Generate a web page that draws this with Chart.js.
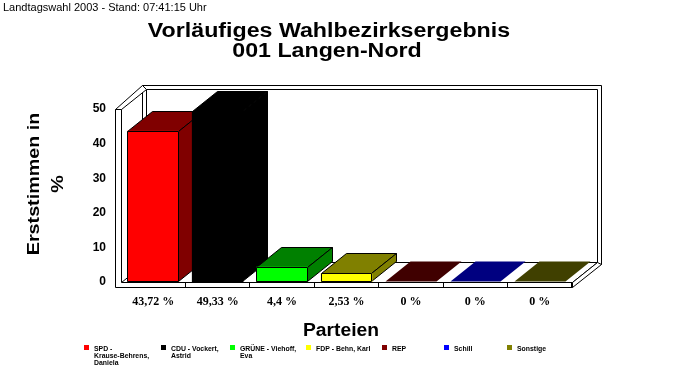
<!DOCTYPE html>
<html><head><meta charset="utf-8">
<script src="https://cdn.jsdelivr.net/npm/chart.js@4/dist/chart.umd.min.js"></script>
<style>html,body{margin:0;padding:0;background:#fff;overflow:hidden}#c{display:block}</style>
</head><body>
<canvas id="c" width="683" height="380"></canvas>
<script>
// ---- data ----
const categories = ["SPD - Krause-Behrens, Daniela", "CDU - Vockert, Astrid", "GRÜNE - Viehoff, Eva", "FDP - Behn, Karl", "REP", "Schill", "Sonstige"];
const values = [43.72, 49.33, 4.4, 2.53, 0, 0, 0];
const valueLabels = ["43,72 %", "49,33 %", "4,4 %", "2,53 %", "0 %", "0 %", "0 %"];
const yMin = 0, yMax = 50, yStep = 10;
const headerText = "Landtagswahl 2003 - Stand: 07:41:15 Uhr";
const titleLines = ["Vorläufiges Wahlbezirksergebnis", "001 Langen-Nord"];
const yTitleLines = ["Erststimmen in", "%"];
const xTitle = "Parteien";

// ---- style ----
const frontColors = ["#ff0000", "#000000", "#00ff00", "#ffff00", "#800000", "#0000ff", "#808000"];
const shadeColors = ["#800000", "#000000", "#008000", "#808000", "#400000", "#000080", "#404000"];
const legendColors = ["#ff0000", "#000000", "#00ff00", "#ffff00", "#800000", "#0000ff", "#808000"];
const legendX = [84, 161, 230, 306, 382, 444, 507];
const DX = 25, DY = -20;

function poly(ctx, pts, fill, stroke) {
  ctx.beginPath();
  ctx.moveTo(pts[0][0], pts[0][1]);
  for (let i = 1; i < pts.length; i++) ctx.lineTo(pts[i][0], pts[i][1]);
  ctx.closePath();
  if (fill) { ctx.fillStyle = fill; ctx.fill(); }
  if (stroke) { ctx.strokeStyle = stroke; ctx.lineWidth = 1; ctx.stroke(); }
}
function sText(ctx, text, x, y, font, sx, align) {
  ctx.save();
  ctx.font = font;
  ctx.textAlign = align || 'left';
  ctx.textBaseline = 'alphabetic';
  ctx.fillStyle = '#000';
  ctx.translate(x, y);
  ctx.scale(sx, 1);
  ctx.fillText(text, 0, 0);
  ctx.restore();
}
function wrap(ctx, text, maxW, sx) {
  const words = text.split(' ');
  const lines = [];
  let cur = '';
  for (const w of words) {
    const t = cur ? cur + ' ' + w : w;
    if (cur && ctx.measureText(t).width * sx > maxW) { lines.push(cur); cur = w; }
    else cur = t;
  }
  if (cur) lines.push(cur);
  return lines;
}
function barBox(el) {
  const p = el.getProps(['x', 'y', 'base', 'width'], true);
  return {
    l: Math.round(p.x - p.width / 2) + 0.5,
    r: Math.round(p.x + p.width / 2) - 0.5,
    top: Math.round(p.y) + 0.5,
    base: Math.round(p.base) - 0.5
  };
}

const threeD = {
  id: 'threeD',
  beforeDraw(chart) {
    const ctx = chart.ctx;
    ctx.save();
    ctx.fillStyle = '#fff';
    ctx.fillRect(0, 0, chart.width, chart.height);
    const a = chart.chartArea, ys = chart.scales.y;
    const L = Math.round(a.left) + 0.5, R = Math.round(a.right) + 0.5;
    const T = Math.round(ys.getPixelForValue(yMax)) + 0.5, B = Math.round(ys.getPixelForValue(yMin)) + 0.5;
    poly(ctx, [[L + DX - 4, T + DY - 4], [R + DX + 4, T + DY - 4], [R + DX + 4, B + DY + 2], [L + DX - 4, B + DY + 2]], '#fff', '#000');
    poly(ctx, [[L + DX, T + DY], [R + DX, T + DY], [R + DX, B + DY], [L + DX, B + DY]], '#fff', '#000');
    poly(ctx, [[L - 6, T], [L, T], [L + DX, T + DY], [L + DX - 4, T + DY - 4]], '#fff', '#000');
    poly(ctx, [[L, B], [R, B], [R + DX, B + DY], [L + DX, B + DY]], '#fff', '#000');
    poly(ctx, [[R, B], [R + DX, B + DY], [R + DX + 4, B + DY + 2], [R, B + 5]], '#fff', '#000');
    poly(ctx, [[L - 6, T], [L - 6, B + 5], [R, B + 5], [R, B], [L, B], [L, T]], '#fff', '#000');
    ctx.restore();
  },
  beforeDatasetsDraw(chart) {
    const ctx = chart.ctx;
    const meta = chart.getDatasetMeta(0);
    ctx.save();
    meta.data.forEach((el, i) => {
      const b = barBox(el);
      if (values[i] > 0) {
        poly(ctx, [[b.l, b.top], [b.r, b.top], [b.r + DX, b.top + DY], [b.l + DX, b.top + DY]], shadeColors[i], '#000');
        poly(ctx, [[b.r, b.top], [b.r + DX, b.top + DY], [b.r + DX, b.base + DY], [b.r, b.base]], shadeColors[i], '#000');
      } else {
        poly(ctx, [[b.l, b.base], [b.r, b.base], [b.r + DX, b.base + DY], [b.l + DX, b.base + DY]], shadeColors[i], null);
      }
    });
    ctx.restore();
  },
  afterDatasetsDraw(chart) {
    const ctx = chart.ctx;
    const meta = chart.getDatasetMeta(0);
    ctx.save();
    meta.data.forEach((el, i) => {
      if (values[i] <= 0) return;
      const b = barBox(el);
      poly(ctx, [[b.l, b.top], [b.r, b.top], [b.r, b.base], [b.l, b.base]], null, '#000');
    });
    ctx.restore();
  },
  afterDraw(chart) {
    const ctx = chart.ctx;
    ctx.save();
    sText(ctx, headerText, 3, 11, '11px "Liberation Sans", Arial, sans-serif', 1, 'left');
    sText(ctx, titleLines[0], 329, 36.5, 'bold 20px "Liberation Sans", Arial, sans-serif', 1.16, 'center');
    sText(ctx, titleLines[1], 327, 57, 'bold 20px "Liberation Sans", Arial, sans-serif', 1.16, 'center');
    sText(ctx, xTitle, 341, 336, 'bold 18px "Liberation Sans", Arial, sans-serif', 1.07, 'center');
    const yx = [38.5, 63];
    yTitleLines.forEach((t, k) => {
      ctx.save();
      ctx.translate(yx[k], 184);
      ctx.rotate(-Math.PI / 2);
      sText(ctx, t, 0, 0, 'bold 17px "Liberation Sans", Arial, sans-serif', 1.16, 'center');
      ctx.restore();
    });
    const lf = 'bold 6.5px "Liberation Sans", Arial, sans-serif';
    categories.forEach((c, i) => {
      ctx.fillStyle = legendColors[i];
      ctx.fillRect(legendX[i], 345, 5, 5);
      ctx.font = lf;
      const lines = wrap(ctx, c, 57, 1.06);
      lines.forEach((ln, k) => sText(ctx, ln, legendX[i] + 10, 350.5 + 7 * k, lf, 1.06, 'left'));
    });
    ctx.restore();
  }
};

new Chart(document.getElementById('c'), {
  type: 'bar',
  data: {
    labels: valueLabels,
    datasets: [{
      data: values,
      backgroundColor: frontColors,
      borderWidth: 0,
      barPercentage: 0.8,
      categoryPercentage: 1
    }]
  },
  options: {
    responsive: false,
    animation: false,
    devicePixelRatio: 1,
    layout: { padding: { top: 109, right: 111, bottom: 68, left: 0 } },
    plugins: { legend: { display: false }, title: { display: false }, tooltip: { enabled: false } },
    scales: {
      x: {
        offset: true,
        grid: {
          display: true, drawOnChartArea: false, drawTicks: true, tickLength: 5, offset: true,
          color: c => (c.index === 0 || c.index >= values.length) ? 'rgba(0,0,0,0)' : '#000'
        },
        border: { display: false },
        ticks: { color: '#000', font: { family: 'Liberation Serif', weight: 'bold', size: 12 }, padding: 8, maxRotation: 0, autoSkip: false },
        afterFit: s => { s.height = 30; }
      },
      y: {
        min: yMin, max: yMax,
        ticks: { stepSize: yStep, color: '#000', font: { family: 'Liberation Sans', weight: 'bold', size: 12 }, padding: 15 },
        grid: { display: false, drawTicks: false },
        border: { display: false },
        afterFit: s => { s.width = 121; }
      }
    }
  },
  plugins: [threeD]
});
</script>
</body></html>
